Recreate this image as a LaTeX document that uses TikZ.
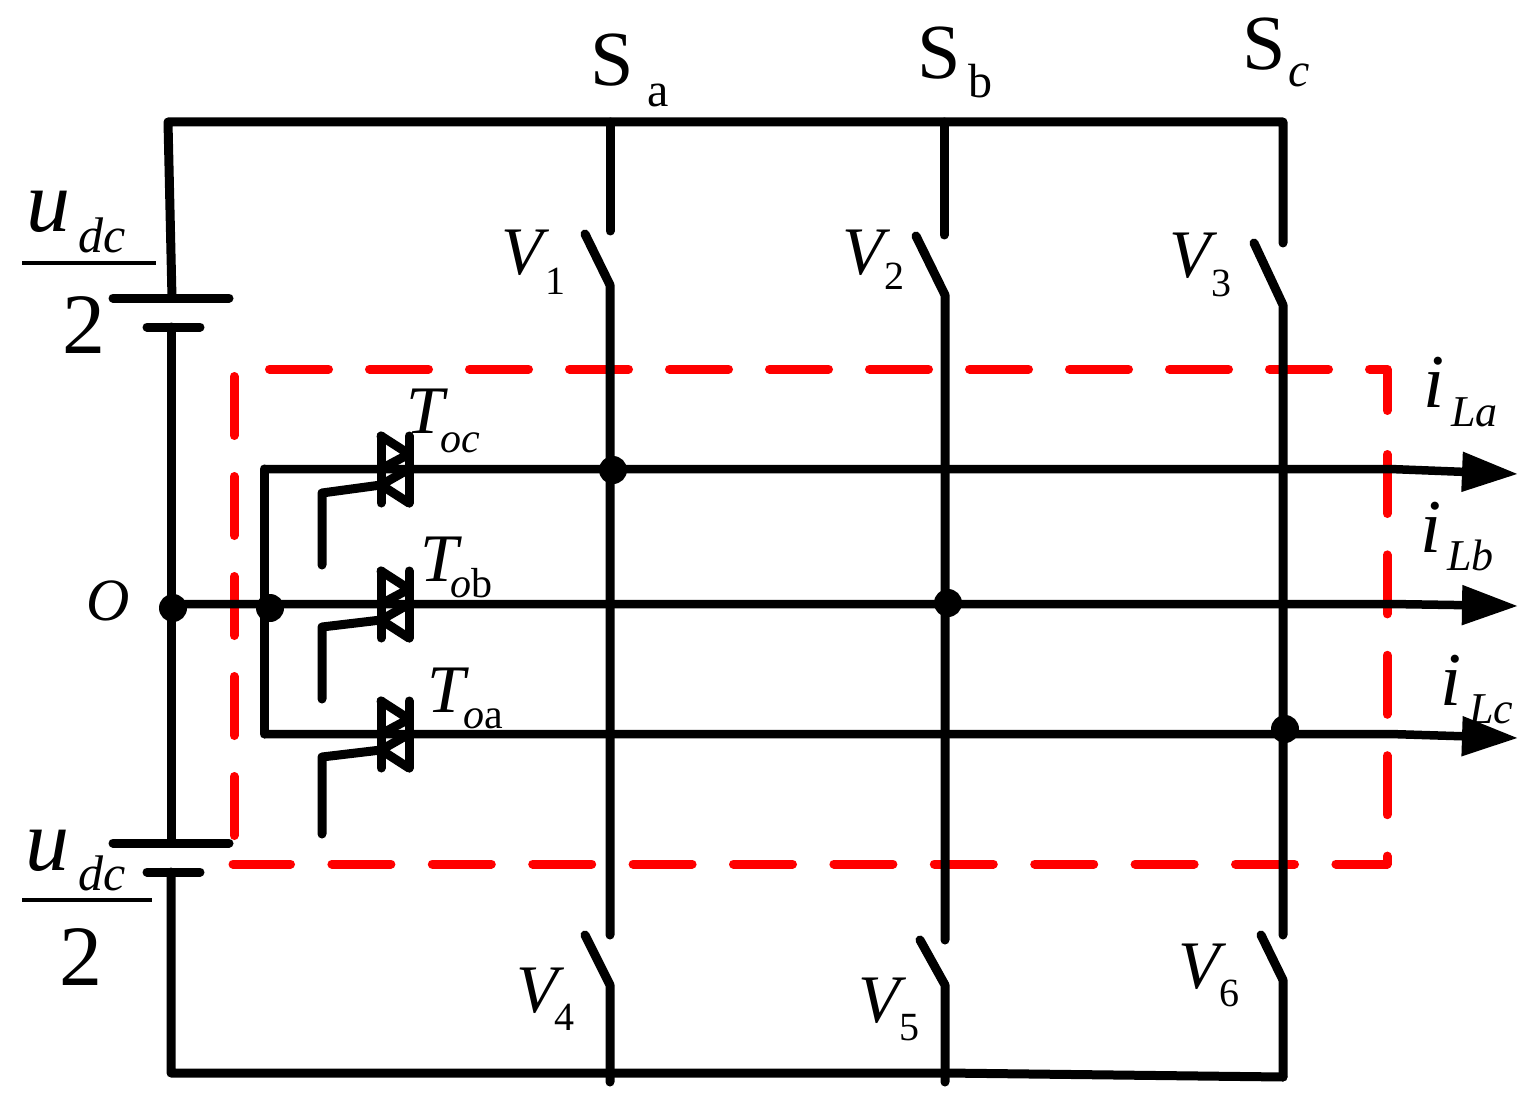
\documentclass[tikz,border=0pt]{standalone}
\usepackage{fontspec}
\setmainfont{Liberation Serif}
\usetikzlibrary{arrows.meta}
\newcommand\lab[6]{{\fontsize{#1}{#1}\selectfont #2}\kern#3pt\raisebox{-#4pt}{\fontsize{#5}{#5}\selectfont #6}}
\tikzset{
 wire/.style={line width=9pt,line join=round,line cap=round,black},
 thinwire/.style={line width=4pt,black},
 outp/.style={line width=8.5pt,line cap=butt,line join=round,-{Triangle[length=56pt,width=38pt]}},
 frame/.style={line width=9pt,red,line cap=round,line join=round},
 dot/.style={circle,fill=black,draw=none,minimum size=28pt,inner sep=0pt},
 txt/.style={anchor=base west,inner sep=0pt,outer sep=0pt,black},
}
\begin{document}
\begin{tikzpicture}[x=1pt,y=-1pt]
\useasboundingbox (0,0) rectangle (1532,1102);
% frame
\coordinate (f0) at (1387,369);
\coordinate (f1) at (1387,864);
\coordinate (f2) at (233,864);
\coordinate (f3) at (234,835.5);
\coordinate (f4) at (234,375.5);
\coordinate (f5) at (233,369);
\coordinate (f6) at (1387,411);
\coordinate (f7) at (1387,454.5);
\draw[frame,dash pattern=on 59pt off 41pt,dash phase=63.5pt] (f5) -- (f0) -- (f6);
\draw[frame,dash pattern=on 59pt off 41.4pt] (f7) -- (f1) -- (f2);
\draw[frame,dash pattern=on 59pt off 41pt] (f3) -- (f4);
% junctions and rails
\coordinate (tl) at (168,122);
\coordinate (tr) at (1283,122);
\coordinate (ta) at (610,122);
\coordinate (tb) at (944,122);
\coordinate (bl) at (171,1073);
\coordinate (bb) at (945,1073);
\coordinate (br) at (1283,1077);
\node[dot] (O) at (173,608) {};
\node[dot] (J) at (270,608) {};
\node[dot] (Ja) at (613,470) {};
\node[dot] (Jb) at (948,603) {};
\node[dot] (Jc) at (1285,729) {};
\coordinate (Ow) at (173,604);
% batteries
\coordinate (c1a) at (113,298); \coordinate (c1b) at (229,298);
\coordinate (c2a) at (147,327); \coordinate (c2b) at (200,327);
\coordinate (c3a) at (113,843); \coordinate (c3b) at (229,843);
\coordinate (c4a) at (147,872); \coordinate (c4b) at (200,872);
\coordinate (c1m) at (172,298); \coordinate (c2m) at (171,327);
\coordinate (c3m) at (171,843); \coordinate (c4m) at (171,872);
\draw[wire] (c1m) -- (tl) -- (tr) -- (1283,243);
\draw[wire] (c1a) -- (c1b); \draw[wire] (c2a) -- (c2b);
\draw[wire] (c3a) -- (c3b); \draw[wire] (c4a) -- (c4b);
\draw[wire] (c2m) -- (c3m);
\draw[wire] (c4m) -- (bl) -- (bb) -- (br);
% legs
\draw[wire] (ta) -- (610,231);
\draw[wire] (585,234) -- (610,285) -- (610,935);
\draw[wire] (585,935) -- (610,985) -- (610,1082);
\draw[wire] (tb) -- (944,235);
\draw[wire] (916,236) -- (945,295) -- (945,940);
\draw[wire] (920,940) -- (945,985) -- (945,1082);
\draw[wire] (1254,243) -- (1283,305) -- (1283,935);
\draw[wire] (1261,935) -- (1283,980) -- (br);
% phase wires
\coordinate (ea) at (1518,474);
\coordinate (eb) at (1518,606);
\coordinate (ec) at (1518,738);
\draw[outp] (Ow) -- (1390,604) -- (eb);
\draw[outp] (264,469) -- (1390,469) -- (ea);
\draw[outp] (264,734) -- (1390,734) -- (ec);
\draw[wire] (264,469) -- (264,734);
% triacs
\foreach \yy/\gt/\gb in {469/24/96,604/23/95,734/23/100}{
 \begin{scope}[yshift=-\yy pt]
 \draw[wire] (381,-33) -- (381,34);
 \draw[wire] (409,-33) -- (409,34);
 \draw[wire] (381,-33) -- (409,-15) -- (381,0);
 \draw[wire] (409,0) -- (381,16) -- (409,34);
 \draw[wire] (322,\gb) -- (322,\gt) -- (381,16);
 \end{scope}
}
% fraction bars
\draw[thinwire] (22,263) -- (156,263);
\draw[thinwire] (22,900) -- (152,900);
% labels
\node[txt] (Sa) at (590,86) {\lab{78}{S}{14.6}{21}{48}{a}};
\node[txt] (Sb) at (917,79) {\lab{78}{S}{8.6}{19}{48}{b}};
\node[txt] (Sc) at (1242,70) {\lab{78}{S}{3.6}{17}{48}{\itshape c}};
\node[txt] (V1) at (501,275) {\lab{68}{\itshape V}{3}{20}{40}{1}};
\node[txt] (V2) at (842,275) {\lab{68}{\itshape V}{0.5}{15}{40}{2}};
\node[txt] (V3) at (1169,278) {\lab{68}{\itshape V}{0.8}{19}{40}{3}};
\node[txt] (V4) at (516,1012) {\lab{68}{\itshape V}{-3.5}{18}{40}{4}};
\node[txt] (V5) at (858,1022) {\lab{68}{\itshape V}{-0.5}{18}{40}{5}};
\node[txt] (V6) at (1178,988) {\lab{68}{\itshape V}{-0.5}{18}{40}{6}};
\node[txt] (Toc) at (406,433) {\lab{68}{\itshape T}{-3.8}{19}{42}{\itshape oc}};
\node[txt] (Tob) at (420,581) {\lab{68}{\itshape T}{-7.8}{16}{42}{{\itshape o}b}};
\node[txt] (Toa) at (427,712) {\lab{68}{\itshape T}{-1.8}{16}{42}{{\itshape o}a}};
\node[txt] (Olab) at (86.5,620) {\fontsize{60}{60}\selectfont\itshape O};
\node[txt] (iLa) at (1423,407) {\lab{76}{\itshape i}{7}{19}{44}{\itshape La}};
\node[txt] (iLb) at (1420,552) {\lab{76}{\itshape i}{6}{18}{44}{\itshape Lb}};
\node[txt] (iLc) at (1440,705) {\lab{76}{\itshape i}{8}{18}{44}{\itshape Lc}};
\node[txt] (u1) at (26,232) {\lab{88}{\itshape u}{9}{21}{50}{\itshape dc}};
\node[txt] (u2) at (25,870) {\lab{88}{\itshape u}{9}{20}{50}{\itshape dc}};
\node[txt] (n1) at (62,353) {\fontsize{86}{86}\selectfont 2};
\node[txt] (n2) at (59,985) {\fontsize{86}{86}\selectfont 2};
\end{tikzpicture}
\end{document}
